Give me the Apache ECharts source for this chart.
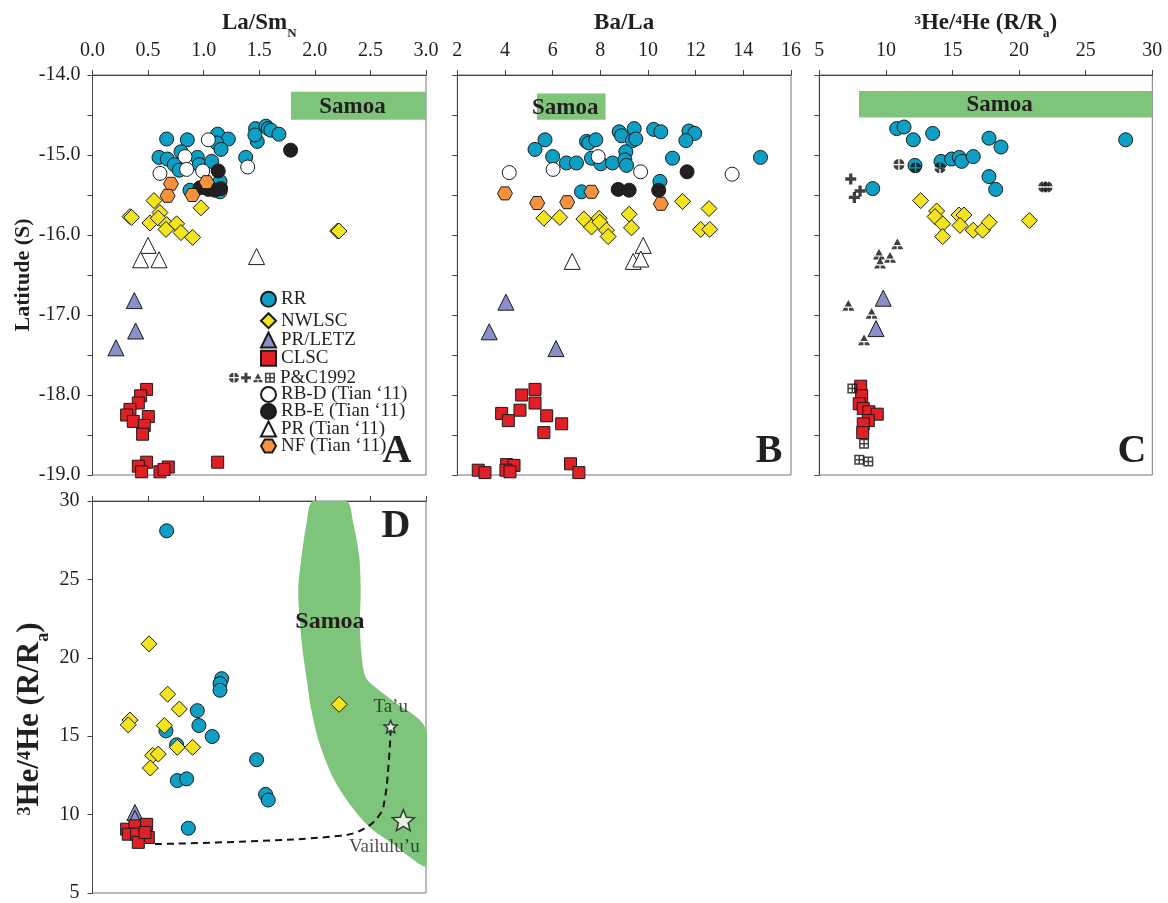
<!DOCTYPE html>
<html>
<head>
<meta charset="utf-8">
<script src="https://cdn.jsdelivr.net/npm/echarts@6/dist/echarts.min.js"></script>
<style>
html, body { margin: 0; padding: 0; background: #fff; }
#chart { width: 1168px; height: 903px; }
</style>
</head>
<body>
<div id="chart"></div>
<script>
var FONT = '"Liberation Serif", "Times New Roman", serif';
var INK = '#231f20';
var GREEN = '#7ec47a';

// tick settings per axis
var laSmTicks = [0, 3, 0.5];
var baLaTicks = [2, 16, 2];
var heTicks = [5, 30, 5];
var latTicks = [-19, -14, 0.5];

// Samoa bands [x1, lat1, x2, lat2]
var samoaBandA = [1.785, -14.21, 3.0, -14.56];
var samoaBandB = [5.34, -14.23, 8.22, -14.56];
var samoaBandC = [7.98, -14.20, 30, -14.53];

// ---- panel A: La/Sm_N vs latitude
var rrA = [[0.667,-14.80],[0.853,-14.81],[0.598,-15.03],[0.673,-15.05],[0.736,-15.12],[0.796,-14.96],[0.78,-15.19],[0.943,-15.03],[0.96,-15.12],[1.072,-15.08],[1.126,-14.74],[1.222,-14.80],[1.117,-14.85],[1.156,-14.93],[1.147,-15.33],[1.147,-15.46],[0.877,-15.44],[1.378,-15.03],[1.467,-14.67],[1.482,-14.83],[1.461,-14.75],[1.56,-14.64],[1.581,-14.67],[1.605,-14.69],[1.677,-14.74]];
var rbdA = [[1.042,-14.81],[0.832,-15.02],[0.847,-15.18],[0.607,-15.23],[0.991,-15.20],[1.396,-15.15]];
var rbeA = [[1.782,-14.94],[1.131,-15.20],[0.967,-15.41],[1.042,-15.43],[1.101,-15.44],[1.153,-15.42]];
var nfA = [[0.706,-15.36],[0.676,-15.51],[0.898,-15.50],[1.027,-15.34]];
var nwA = [[0.553,-15.57],[0.976,-15.66],[0.337,-15.77],[0.352,-15.78],[0.607,-15.72],[0.517,-15.85],[0.592,-15.79],[0.667,-15.87],[0.661,-15.93],[0.757,-15.86],[0.796,-15.97],[0.901,-16.03],[2.205,-15.95],[2.217,-15.95]];
var prtA = [[0.50,-16.13],[0.433,-16.31],[0.598,-16.31],[1.476,-16.27]];
var letzA = [[0.376,-16.82],[0.388,-17.20],[0.211,-17.41]];
var clscA = [[0.487,-17.93],[0.433,-18.01],[0.412,-18.10],[0.337,-18.18],[0.307,-18.25],[0.367,-18.33],[0.502,-18.27],[0.466,-18.38],[0.451,-18.49],[0.487,-18.84],[0.412,-18.89],[0.442,-18.96],[0.607,-18.96],[0.682,-18.90],[0.643,-18.93],[1.126,-18.84]];

// ---- panel B: Ba/La vs latitude
var rrB = [[5.26,-14.93],[5.68,-14.81],[6.00,-15.02],[6.58,-15.10],[7.00,-15.10],[7.42,-14.83],[7.52,-14.85],[7.81,-14.81],[7.63,-15.04],[8.02,-15.11],[8.51,-15.10],[8.79,-14.71],[8.89,-14.76],[9.42,-14.67],[9.35,-14.82],[9.49,-14.80],[9.07,-14.96],[9.03,-15.06],[9.10,-15.13],[10.24,-14.68],[10.54,-14.71],[11.03,-15.04],[10.50,-15.33],[11.72,-14.70],[11.96,-14.73],[11.59,-14.82],[14.72,-15.03],[7.21,-15.46]];
var rbdB = [[4.18,-15.22],[6.02,-15.18],[7.91,-15.02],[9.69,-15.21],[13.53,-15.24]];
var rbeB = [[8.75,-15.43],[9.21,-15.44],[10.45,-15.44],[11.64,-15.21]];
var nfB = [[4.00,-15.48],[5.35,-15.60],[6.61,-15.59],[7.63,-15.46],[10.54,-15.61]];
var nwB = [[5.63,-15.79],[6.30,-15.78],[7.31,-15.80],[7.63,-15.90],[7.95,-15.79],[7.98,-15.84],[8.26,-15.94],[8.33,-16.02],[9.21,-15.74],[9.31,-15.91],[11.45,-15.58],[12.56,-15.67],[12.21,-15.93],[12.59,-15.93]];
var prtB = [[9.80,-16.13],[6.82,-16.33],[9.38,-16.33],[9.70,-16.30]];
var letzB = [[4.04,-16.84],[3.34,-17.21],[6.14,-17.42]];
var clscB = [[5.26,-17.93],[4.70,-18.00],[5.26,-18.10],[4.63,-18.19],[3.86,-18.23],[4.14,-18.32],[5.75,-18.26],[6.38,-18.36],[5.63,-18.47],[2.88,-18.94],[3.16,-18.97],[4.07,-18.87],[4.38,-18.88],[4.04,-18.94],[4.21,-18.96],[6.75,-18.86],[7.10,-18.97]];

// ---- panel C: 3He/4He vs latitude
var rrC = [[10.81,-14.67],[11.36,-14.65],[12.06,-14.81],[13.51,-14.73],[17.74,-14.79],[18.64,-14.90],[28.00,-14.81],[12.18,-15.13],[14.14,-15.08],[14.94,-15.05],[15.51,-15.03],[15.69,-15.08],[16.56,-15.02],[17.74,-15.27],[18.24,-15.43],[9.01,-15.42]];
var nwC = [[12.61,-15.57],[13.81,-15.70],[13.69,-15.77],[14.26,-15.86],[14.26,-16.02],[15.49,-15.75],[15.86,-15.75],[15.56,-15.88],[16.56,-15.94],[17.26,-15.94],[17.76,-15.84],[20.77,-15.82]];
var letzC = [[9.80,-16.79],[9.26,-17.17]];
var clscC = [[8.11,-17.89],[8.18,-18.01],[8.0,-18.11],[8.30,-18.17],[8.73,-18.21],[9.35,-18.24],[8.68,-18.32],[8.30,-18.36],[8.26,-18.47]];
var pcCircC = [[10.98,-15.12],[12.23,-15.16],[14.06,-15.16],[21.85,-15.40],[22.1,-15.40]];
var pcPlusC = [[7.36,-15.30],[8.06,-15.45],[7.63,-15.53]];
var pcTriC = [[10.86,-16.11],[9.48,-16.24],[10.31,-16.28],[9.56,-16.35],[7.18,-16.88],[8.93,-16.98],[8.36,-17.31]];
var pcGridC = [[7.48,-17.92],[8.36,-18.61],[8.0,-18.81],[8.68,-18.83]];

// ---- panel D: La/Sm_N vs 3He/4He
var rrD = [[0.667,28.1],[1.162,18.67],[1.147,18.35],[1.147,17.93],[0.943,16.63],[0.957,15.68],[1.077,14.98],[0.661,15.34],[0.757,14.45],[1.476,13.50],[0.763,12.17],[0.847,12.28],[1.557,11.29],[1.581,10.93],[0.862,9.13]];
var nwD = [[0.508,20.89],[0.676,17.68],[0.781,16.73],[0.337,16.03],[0.322,15.72],[0.646,15.68],[0.763,14.29],[0.901,14.29],[0.541,13.78],[0.592,13.86],[0.52,12.97],[2.219,17.03]];
var letzD = [[0.382,10.13],[0.382,9.75]];
var clscD = [[0.307,9.07],[0.382,9.28],[0.487,9.38],[0.322,8.75],[0.397,8.75],[0.502,8.54],[0.412,8.23],[0.472,8.86]];
var volcanoNames = ['Ta’u', 'Vailulu’u'];
var volcanoX = [2.682, 2.796];
var volcanoHe = [15.61, 9.64];
var mixX = [0.562, 1.387, 2.226, 2.436, 2.586, 2.631, 2.661, 2.682];
var mixHe = [8.12, 8.29, 8.65, 9.07, 10.02, 11.08, 12.97, 15.3];
var fieldX = [1.983, 1.926, 1.881, 1.851, 1.866, 1.896, 1.926, 1.971, 2.046, 2.165, 2.316, 2.496, 2.705, 2.855, 3.0, 3.0, 2.675, 2.466, 2.421, 2.406, 2.412, 2.399, 2.345, 2.286];
var fieldHe = [30, 28.6, 26.47, 24.37, 22.26, 20.15, 18.67, 16.58, 14.45, 12.34, 10.65, 9.18, 8.12, 7.28, 6.77, 15.40, 17.41, 18.67, 20.15, 22.26, 24.37, 26.47, 28.6, 30];

// legend rows (names in order, row centres)
var legendNames = ['RR', 'NWLSC', 'PR/LETZ', 'CLSC', 'P&C1992', 'RB-D (Tian ‘11)', 'RB-E (Tian ‘11)', 'PR (Tian ‘11)', 'NF (Tian ‘11)'];
var legendRowY = [299.3, 320.7, 340, 358.3, 377.7, 394.5, 411.5, 429, 446];

// ---- marker glyphs
function poly(pts, ox, oy) {
	return pts.map(function(p, i) {
		return (i ? 'L' : 'M') + (p[0] + ox).toFixed(2) + ' ' + (p[1] + oy).toFixed(2);
	}).join('') + 'Z';
}
function quadCircle(ox, oy) {
	var P = function(x, y) { return (ox + x).toFixed(2) + ' ' + (oy + y).toFixed(2); };
	return 'M' + P(11.2, 8.8) + 'L' + P(11.2, 0.07) + 'A10 10 0 0 1 ' + P(19.93, 8.8) + 'Z' +
		'M' + P(11.2, 11.2) + 'L' + P(19.93, 11.2) + 'A10 10 0 0 1 ' + P(11.2, 19.93) + 'Z' +
		'M' + P(8.8, 11.2) + 'L' + P(8.8, 19.93) + 'A10 10 0 0 1 ' + P(0.07, 11.2) + 'Z' +
		'M' + P(8.8, 8.8) + 'L' + P(0.07, 8.8) + 'A10 10 0 0 1 ' + P(8.8, 0.07) + 'Z';
}
function plusGlyph(ox, oy) {
	return poly([[7,0],[13,0],[13,7],[20,7],[20,13],[13,13],[13,20],[7,20],[7,13],[0,13],[0,7],[7,7]], ox, oy);
}
function triGlyph(ox, oy) {
	return poly([[10,0],[16.11,11],[3.89,11]], ox, oy) +
		poly([[2.78,13],[9,13],[9,18],[0,18]], ox, oy) +
		poly([[11,13],[17.22,13],[20,18],[11,18]], ox, oy);
}
function gridGlyph(ox, oy) {
	return poly([[0,0],[20,0],[20,20],[0,20]], ox, oy) +
		poly([[3,3],[3,8.5],[8.5,8.5],[8.5,3]], ox, oy) +
		poly([[11.5,3],[11.5,8.5],[17,8.5],[17,3]], ox, oy) +
		poly([[3,11.5],[3,17],[8.5,17],[8.5,11.5]], ox, oy) +
		poly([[11.5,11.5],[11.5,17],[17,17],[17,11.5]], ox, oy);
}
var HEX = 'path://M5 0L15 0L20 8.66L15 17.32L5 17.32L0 8.66Z';
var STAR = 'path://M10 0L12.6 6.4L19.51 6.91L14.2 11.4L15.88 18.09L10 14.4L4.12 18.09L5.8 11.4L0.49 6.91L7.4 6.4Z';
var pcLegendIcon = 'path://' + quadCircle(0, 0) + plusGlyph(24, 0) + triGlyph(48, 1) + gridGlyph(72, 0);

var styles = {
	'RR': { symbol: 'circle', size: 14, color: '#0e9fc5' },
	'NWLSC': { symbol: 'diamond', size: 16, color: '#f4e41f' },
	'PR/LETZ': { symbol: 'triangle', size: 16, color: '#8b8fc8' },
	'CLSC': { symbol: 'rect', size: 12, color: '#e11f26' },
	'RB-D (Tian ‘11)': { symbol: 'circle', size: 14, color: '#ffffff' },
	'RB-E (Tian ‘11)': { symbol: 'circle', size: 14, color: INK },
	'PR (Tian ‘11)': { symbol: 'triangle', size: 16, color: '#ffffff' },
	'NF (Tian ‘11)': { symbol: HEX, size: 15, color: '#f6923e' }
};

function pts(name, data, idx) {
	var s = styles[name];
	return {
		name: name, type: 'scatter', xAxisIndex: idx, yAxisIndex: idx,
		symbol: s.symbol, symbolSize: s.size, symbolKeepAspect: true,
		itemStyle: { color: s.color, borderColor: '#1a1a1a', borderWidth: 1, opacity: 1 },
		data: data, z: 3
	};
}
function glyphs(path, size, data) {
	return {
		name: 'P&C1992', type: 'scatter', xAxisIndex: 2, yAxisIndex: 2,
		symbol: 'path://' + path, symbolSize: size, symbolKeepAspect: true,
		itemStyle: { color: '#111', borderWidth: 0 },
		data: data, z: 3
	};
}
function band(idx, b) {
	return {
		type: 'custom', xAxisIndex: idx, yAxisIndex: idx, z: 1, silent: true,
		data: [b],
		renderItem: function(params, api) {
			var p1 = api.coord([api.value(0), api.value(1)]);
			var p2 = api.coord([api.value(2), api.value(3)]);
			return { type: 'group', children: [
				{ type: 'rect', shape: { x: Math.min(p1[0], p2[0]), y: Math.min(p1[1], p2[1]), width: Math.abs(p2[0] - p1[0]), height: Math.abs(p2[1] - p1[1]) }, style: { fill: GREEN } },
				{ type: 'text', x: (p1[0] + p2[0]) / 2 - 6, y: (p1[1] + p2[1]) / 2 + 1, style: { text: 'Samoa', fill: INK, font: 'bold 23px ' + FONT, align: 'center', verticalAlign: 'middle' } }
			] };
		}
	};
}
function legendRow(name, i) {
	var pc = name === 'P&C1992';
	var w = pc ? 46 : 15;
	return {
		orient: 'vertical', left: 280 - 5 - w, top: legendRowY[i] - 9.5, padding: 0,
		itemWidth: w, itemHeight: pc ? 10 : 15,
		textStyle: { fontFamily: FONT, fontSize: 19, color: INK },
		data: [pc ? { name: name, icon: pcLegendIcon, itemStyle: { color: '#111', borderWidth: 0 } } : name]
	};
}

var tick = { show: true, inside: false, length: 5, lineStyle: { color: '#444' } };
var line = { show: true, lineStyle: { color: '#444', width: 1 } };
function richSet(main, small, lh, lift) {
	return {
		m: { fontFamily: FONT, fontSize: main, fontWeight: 'bold', color: INK, lineHeight: lh },
		sub: { fontFamily: FONT, fontSize: small, fontWeight: 'bold', color: INK, lineHeight: small, verticalAlign: 'bottom' },
		sup: { fontFamily: FONT, fontSize: small, fontWeight: 'bold', color: INK, lineHeight: small, verticalAlign: 'top', padding: [lift, 0, 0, 0] }
	};
}
var rich = richSet(23, 13, 34, 8);
var richBig = richSet(31, 18, 46, 10);
var heName = '{sup|3}{m|He/}{sup|4}{m|He (R/R}{sub|a}{m|)}';

function xAx(idx, t, name, showLabel) {
	return {
		gridIndex: idx, type: 'value', position: 'top', min: t[0], max: t[1], interval: t[2],
		name: name, nameLocation: 'middle', nameGap: 35, nameTextStyle: { rich: rich },
		axisLine: line, axisTick: tick, splitLine: { show: false },
		axisLabel: { show: showLabel, margin: 14, fontFamily: FONT, fontSize: 20, color: INK,
			formatter: function(v) { return t[2] < 1 ? v.toFixed(1) : String(v); } }
	};
}
function yLat(idx, showLabel) {
	return {
		gridIndex: idx, type: 'value', min: latTicks[0], max: latTicks[1], interval: latTicks[2],
		axisLine: line, axisTick: tick, splitLine: { show: false },
		name: showLabel ? 'Latitude (S)' : '', nameLocation: 'middle', nameGap: 58,
		nameTextStyle: { fontFamily: FONT, fontSize: 22, fontWeight: 'bold', color: INK },
		axisLabel: { show: showLabel, margin: 12, fontFamily: FONT, fontSize: 20, color: INK,
			formatter: function(v) { return Math.abs(v - Math.round(v)) < 1e-9 ? v.toFixed(1) : ''; } }
	};
}

var chart = echarts.init(document.getElementById('chart'), null, { renderer: 'canvas' });
var gridBox = { show: true, borderColor: '#777', borderWidth: 1, backgroundColor: 'transparent' };

var option = {
	animation: false,
	backgroundColor: '#fff',
	grid: [
		Object.assign({ left: 92.5, top: 75, width: 333.5, height: 400 }, gridBox),
		Object.assign({ left: 457.3, top: 75, width: 333.7, height: 400 }, gridBox),
		Object.assign({ left: 819.3, top: 75, width: 333, height: 400 }, gridBox),
		Object.assign({ left: 92.5, top: 501, width: 333.5, height: 395 }, gridBox)
	],
	xAxis: [
		xAx(0, laSmTicks, '{m|La/Sm}{sub|N}', true),
		xAx(1, baLaTicks, '{m|Ba/La}', true),
		xAx(2, heTicks, heName, true),
		xAx(3, laSmTicks, '', false)
	],
	yAxis: [
		yLat(0, true), yLat(1, false), yLat(2, false),
		{
			gridIndex: 3, type: 'value', min: heTicks[0], max: heTicks[1], interval: heTicks[2],
			axisLine: line, axisTick: tick, splitLine: { show: false },
			name: heName, nameLocation: 'middle', nameGap: 40,
			nameTextStyle: { rich: richBig, padding: [0, 44, 0, 0] },
			axisLabel: { margin: 13, fontFamily: FONT, fontSize: 20, color: INK }
		}
	],
	legend: legendNames.map(legendRow),
	graphic: [
		{ type: 'text', x: 397, y: 452, z: 10, style: { text: 'A', font: 'bold 40px ' + FONT, fill: INK, align: 'center', verticalAlign: 'middle' } },
		{ type: 'text', x: 769, y: 452, z: 10, style: { text: 'B', font: 'bold 40px ' + FONT, fill: INK, align: 'center', verticalAlign: 'middle' } },
		{ type: 'text', x: 1132, y: 452, z: 10, style: { text: 'C', font: 'bold 40px ' + FONT, fill: INK, align: 'center', verticalAlign: 'middle' } },
		{ type: 'text', x: 396, y: 527, z: 10, style: { text: 'D', font: 'bold 40px ' + FONT, fill: INK, align: 'center', verticalAlign: 'middle' } }
	],
	series: [
		band(0, samoaBandA), band(1, samoaBandB), band(2, samoaBandC),
		// panel A
		pts('RR', rrA, 0), pts('RB-D (Tian ‘11)', rbdA, 0), pts('RB-E (Tian ‘11)', rbeA, 0),
		pts('NF (Tian ‘11)', nfA, 0), pts('NWLSC', nwA, 0), pts('PR (Tian ‘11)', prtA, 0),
		pts('PR/LETZ', letzA, 0), pts('CLSC', clscA, 0),
		// panel B
		pts('RR', rrB, 1), pts('RB-D (Tian ‘11)', rbdB, 1), pts('RB-E (Tian ‘11)', rbeB, 1),
		pts('NF (Tian ‘11)', nfB, 1), pts('NWLSC', nwB, 1), pts('PR (Tian ‘11)', prtB, 1),
		pts('PR/LETZ', letzB, 1), pts('CLSC', clscB, 1),
		// panel C
		pts('RR', rrC, 2), pts('NWLSC', nwC, 2), pts('PR/LETZ', letzC, 2), pts('CLSC', clscC, 2),
		glyphs(quadCircle(0, 0), 11, pcCircC), glyphs(plusGlyph(0, 0), 11, pcPlusC),
		glyphs(triGlyph(0, 0), 12, pcTriC), glyphs(gridGlyph(0, 0), 10, pcGridC),
		// panel D
		{
			type: 'custom', xAxisIndex: 3, yAxisIndex: 3, z: 1, silent: true, clip: true,
			data: [[fieldX[0], fieldHe[0]]],
			renderItem: function(params, api) {
				var shape = fieldX.map(function(x, i) { return api.coord([x, fieldHe[i]]); });
				var c = api.coord([2.136, 22.3]);
				return { type: 'group', children: [
					{ type: 'polygon', shape: { points: shape, smooth: 0.3 }, style: { fill: GREEN } },
					{ type: 'text', x: c[0], y: c[1], style: { text: 'Samoa', fill: INK, font: 'bold 24px ' + FONT, align: 'center', verticalAlign: 'middle' } }
				] };
			}
		},
		{
			type: 'line', xAxisIndex: 3, yAxisIndex: 3, z: 2, smooth: 0.4, symbol: 'none', silent: true,
			lineStyle: { color: '#111', width: 2, type: [7, 5] },
			data: mixX.map(function(x, i) { return [x, mixHe[i]]; })
		},
		pts('RR', rrD, 3), pts('NWLSC', nwD, 3), pts('PR/LETZ', letzD, 3), pts('CLSC', clscD, 3),
		{
			type: 'scatter', xAxisIndex: 3, yAxisIndex: 3, z: 4, symbol: STAR, symbolKeepAspect: true,
			itemStyle: { color: '#fff', borderColor: '#111', borderWidth: 1.5 },
			data: volcanoNames.map(function(n, i) {
				var big = i === 1;
				return {
					name: n, value: [volcanoX[i], volcanoHe[i]], symbolSize: big ? 22 : 13,
					label: big ? { show: true, position: 'bottom', offset: [-19, 4], distance: 2 }
						: { show: true, position: 'top', distance: 3 }
				};
			}),
			label: { formatter: '{b}', fontFamily: FONT, fontSize: 19, color: INK }
		}
	]
};
chart.setOption(option);
</script>
</body>
</html>
